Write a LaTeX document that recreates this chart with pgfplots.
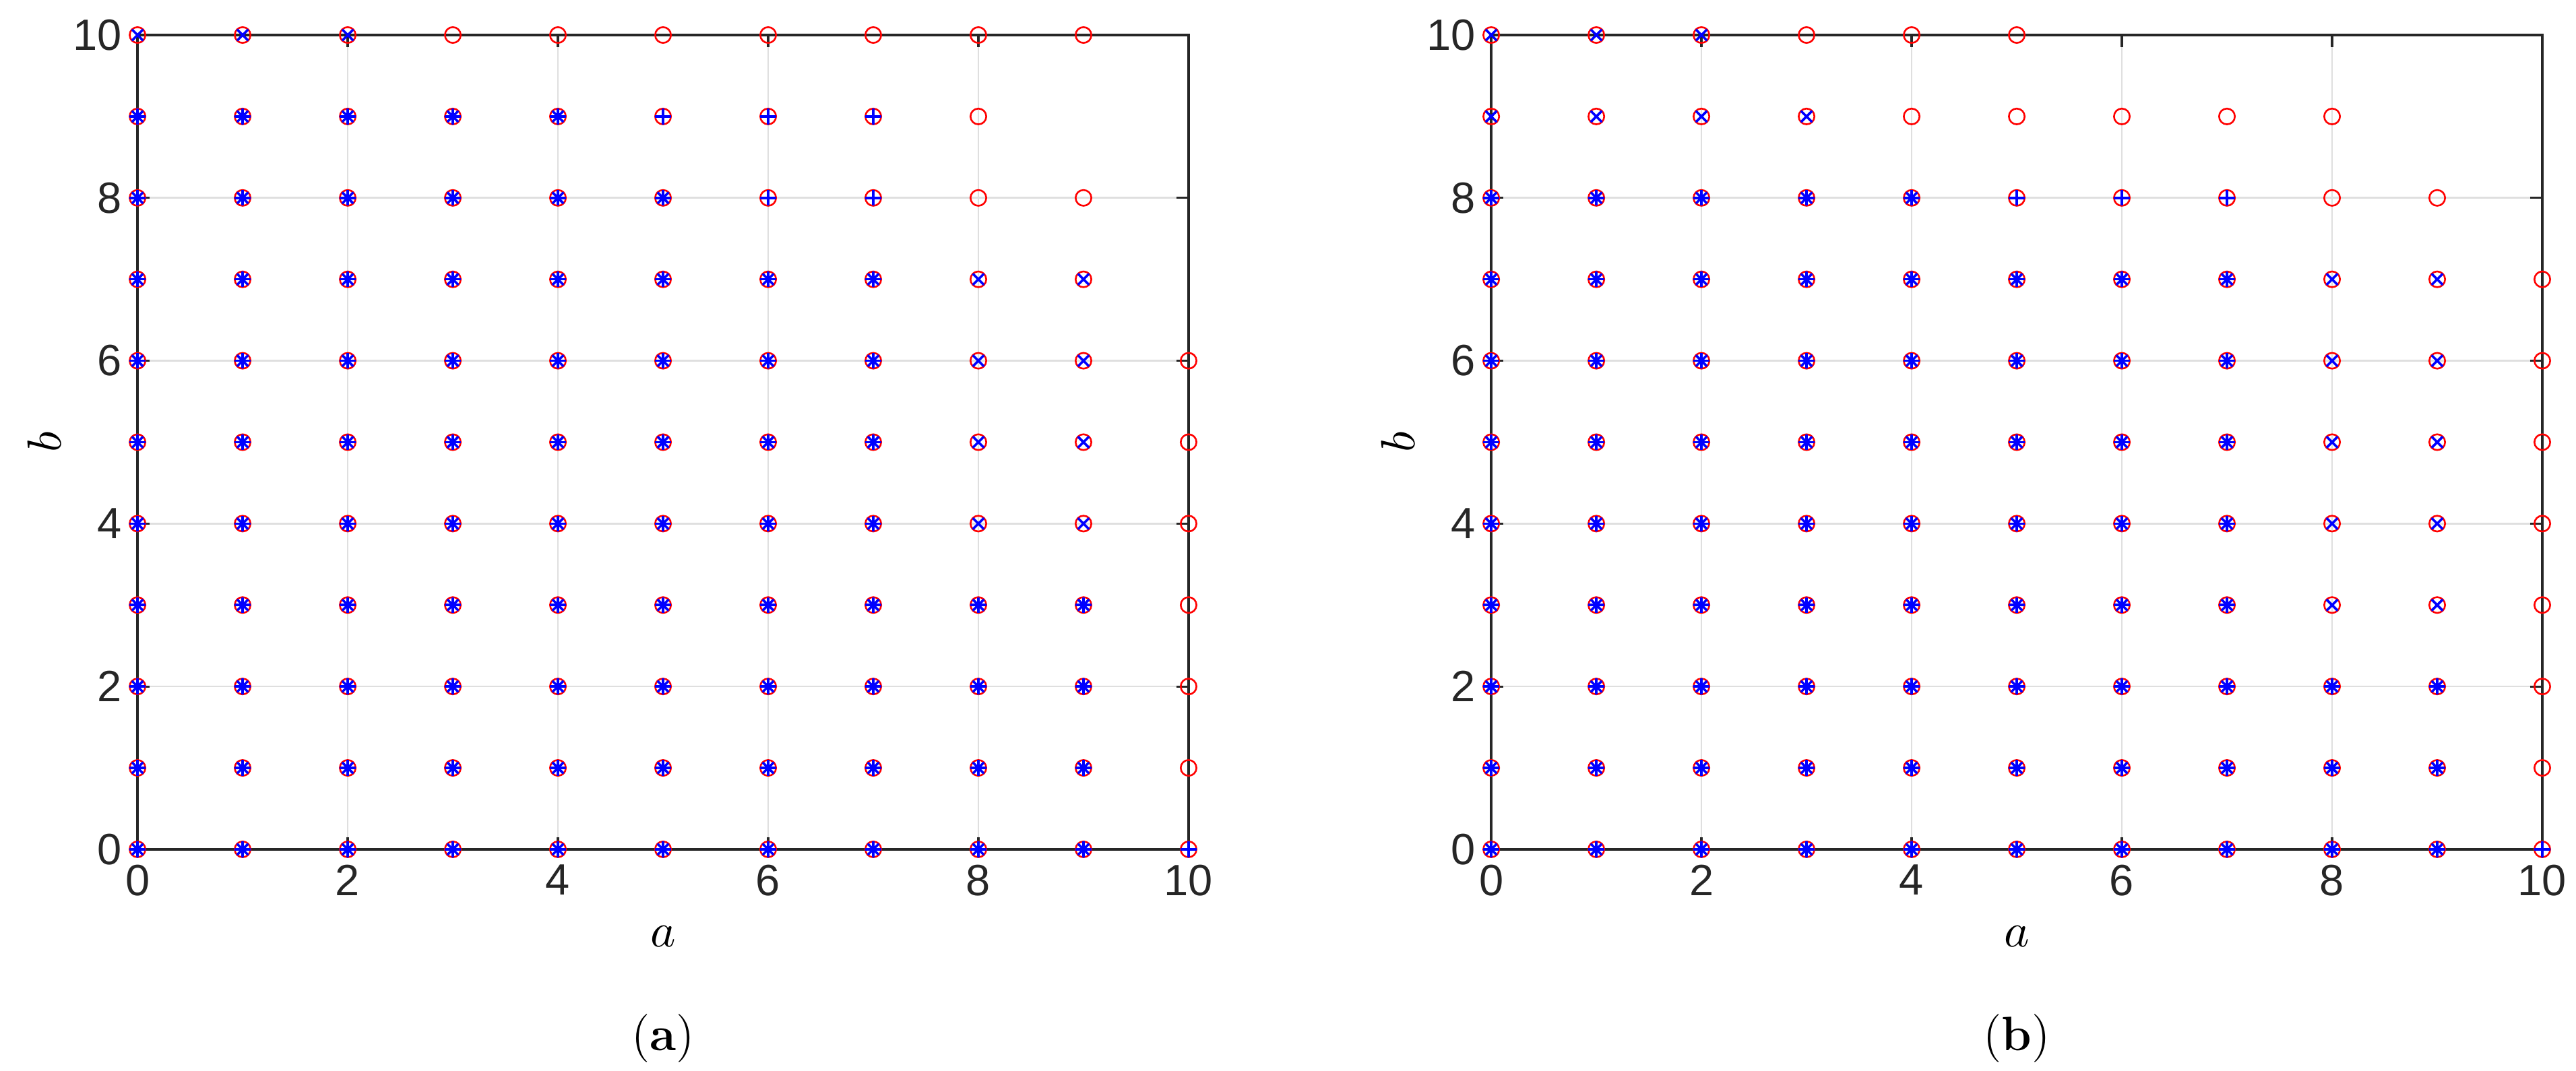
\documentclass[border=0pt]{standalone}
\usepackage{fontspec}
\usepackage{pgfplots}
\pgfplotsset{compat=1.18}
\setsansfont{Liberation Sans}

\definecolor{axgray}{RGB}{38,38,38}
\definecolor{gridgray}{RGB}{223,223,223}
\definecolor{mred}{RGB}{255,0,0}
\definecolor{mblue}{RGB}{0,0,255}

\pgfplotsset{
  panel/.style={
    scale only axis,
    width=240pt, height=186pt,
    xmin=0, xmax=10, ymin=0, ymax=10,
    xtick={0,2,...,10}, ytick={0,2,...,10},
    tick align=inside,
    major tick length=2.7pt,
    grid=major,
    grid style={line width=0.4pt, gridgray},
    axis line style={line width=0.5pt, axgray},
    tick style={line width=0.5pt, axgray},
    tick label style={font=\sffamily\fontsize{10}{12}\selectfont, axgray},
    /pgf/number format/assume math mode=true,
    label style={font=\fontsize{11}{13}\selectfont},
    xlabel={$a$}, ylabel={$b$},
    ylabel style={yshift=-4pt},
    clip=false,
  },
  circ/.style={only marks, mark=o, mark size=1.8pt, mred, line width=0.4pt},
  pls/.style={only marks, mark=+, mark size=1.8pt, mblue, line width=0.55pt},
  crs/.style={only marks, mark=x, mark size=1.8pt, mblue, line width=0.55pt},
}

\begin{document}
\begin{tikzpicture}
\useasboundingbox (-31.4pt,-50.5pt) rectangle (556.8pt,194pt);

% ---- panel (a)
\begin{axis}[panel, at={(0,0)}, anchor=south west]
\addplot[circ] coordinates {
 (0,10) (1,10) (2,10) (3,10) (4,10) (5,10) (6,10) (7,10) (8,10) (9,10)
 (0,9) (1,9) (2,9) (3,9) (4,9) (5,9) (6,9) (7,9) (8,9)
 (0,8) (1,8) (2,8) (3,8) (4,8) (5,8) (6,8) (7,8) (8,8) (9,8)
 (0,7) (1,7) (2,7) (3,7) (4,7) (5,7) (6,7) (7,7) (8,7) (9,7)
 (0,6) (1,6) (2,6) (3,6) (4,6) (5,6) (6,6) (7,6) (8,6) (9,6) (10,6)
 (0,5) (1,5) (2,5) (3,5) (4,5) (5,5) (6,5) (7,5) (8,5) (9,5) (10,5)
 (0,4) (1,4) (2,4) (3,4) (4,4) (5,4) (6,4) (7,4) (8,4) (9,4) (10,4)
 (0,3) (1,3) (2,3) (3,3) (4,3) (5,3) (6,3) (7,3) (8,3) (9,3) (10,3)
 (0,2) (1,2) (2,2) (3,2) (4,2) (5,2) (6,2) (7,2) (8,2) (9,2) (10,2)
 (0,1) (1,1) (2,1) (3,1) (4,1) (5,1) (6,1) (7,1) (8,1) (9,1) (10,1)
 (0,0) (1,0) (2,0) (3,0) (4,0) (5,0) (6,0) (7,0) (8,0) (9,0) (10,0)
};
\addplot[pls] coordinates {
 (0,9) (1,9) (2,9) (3,9) (4,9) (5,9) (6,9) (7,9)
 (0,8) (1,8) (2,8) (3,8) (4,8) (5,8) (6,8) (7,8)
 (0,7) (1,7) (2,7) (3,7) (4,7) (5,7) (6,7) (7,7)
 (0,6) (1,6) (2,6) (3,6) (4,6) (5,6) (6,6) (7,6)
 (0,5) (1,5) (2,5) (3,5) (4,5) (5,5) (6,5) (7,5)
 (0,4) (1,4) (2,4) (3,4) (4,4) (5,4) (6,4) (7,4)
 (0,3) (1,3) (2,3) (3,3) (4,3) (5,3) (6,3) (7,3) (8,3) (9,3)
 (0,2) (1,2) (2,2) (3,2) (4,2) (5,2) (6,2) (7,2) (8,2) (9,2)
 (0,1) (1,1) (2,1) (3,1) (4,1) (5,1) (6,1) (7,1) (8,1) (9,1)
 (0,0) (1,0) (2,0) (3,0) (4,0) (5,0) (6,0) (7,0) (8,0) (9,0) (10,0)
};
\addplot[crs] coordinates {
 (0,10) (1,10) (2,10)
 (0,9) (1,9) (2,9) (3,9) (4,9)
 (0,8) (1,8) (2,8) (3,8) (4,8) (5,8)
 (0,7) (1,7) (2,7) (3,7) (4,7) (5,7) (6,7) (7,7) (8,7) (9,7)
 (0,6) (1,6) (2,6) (3,6) (4,6) (5,6) (6,6) (7,6) (8,6) (9,6)
 (0,5) (1,5) (2,5) (3,5) (4,5) (5,5) (6,5) (7,5) (8,5) (9,5)
 (0,4) (1,4) (2,4) (3,4) (4,4) (5,4) (6,4) (7,4) (8,4) (9,4)
 (0,3) (1,3) (2,3) (3,3) (4,3) (5,3) (6,3) (7,3) (8,3) (9,3)
 (0,2) (1,2) (2,2) (3,2) (4,2) (5,2) (6,2) (7,2) (8,2) (9,2)
 (0,1) (1,1) (2,1) (3,1) (4,1) (5,1) (6,1) (7,1) (8,1) (9,1)
 (0,0) (1,0) (2,0) (3,0) (4,0) (5,0) (6,0) (7,0) (8,0) (9,0)
};
\node[font=\fontsize{11}{13}\selectfont] at (axis description cs:0.5,-0.232) {(\textbf{a})};
\end{axis}

% ---- panel (b)
\begin{axis}[panel, at={(309.1pt,0)}, anchor=south west]
\addplot[circ] coordinates {
 (0,10) (1,10) (2,10) (3,10) (4,10) (5,10)
 (0,9) (1,9) (2,9) (3,9) (4,9) (5,9) (6,9) (7,9) (8,9)
 (0,8) (1,8) (2,8) (3,8) (4,8) (5,8) (6,8) (7,8) (8,8) (9,8)
 (0,7) (1,7) (2,7) (3,7) (4,7) (5,7) (6,7) (7,7) (8,7) (9,7) (10,7)
 (0,6) (1,6) (2,6) (3,6) (4,6) (5,6) (6,6) (7,6) (8,6) (9,6) (10,6)
 (0,5) (1,5) (2,5) (3,5) (4,5) (5,5) (6,5) (7,5) (8,5) (9,5) (10,5)
 (0,4) (1,4) (2,4) (3,4) (4,4) (5,4) (6,4) (7,4) (8,4) (9,4) (10,4)
 (0,3) (1,3) (2,3) (3,3) (4,3) (5,3) (6,3) (7,3) (8,3) (9,3) (10,3)
 (0,2) (1,2) (2,2) (3,2) (4,2) (5,2) (6,2) (7,2) (8,2) (9,2) (10,2)
 (0,1) (1,1) (2,1) (3,1) (4,1) (5,1) (6,1) (7,1) (8,1) (9,1) (10,1)
 (0,0) (1,0) (2,0) (3,0) (4,0) (5,0) (6,0) (7,0) (8,0) (9,0) (10,0)
};
\addplot[pls] coordinates {
 (0,8) (1,8) (2,8) (3,8) (4,8) (5,8) (6,8) (7,8)
 (0,7) (1,7) (2,7) (3,7) (4,7) (5,7) (6,7) (7,7)
 (0,6) (1,6) (2,6) (3,6) (4,6) (5,6) (6,6) (7,6)
 (0,5) (1,5) (2,5) (3,5) (4,5) (5,5) (6,5) (7,5)
 (0,4) (1,4) (2,4) (3,4) (4,4) (5,4) (6,4) (7,4)
 (0,3) (1,3) (2,3) (3,3) (4,3) (5,3) (6,3) (7,3)
 (0,2) (1,2) (2,2) (3,2) (4,2) (5,2) (6,2) (7,2) (8,2) (9,2)
 (0,1) (1,1) (2,1) (3,1) (4,1) (5,1) (6,1) (7,1) (8,1) (9,1)
 (0,0) (1,0) (2,0) (3,0) (4,0) (5,0) (6,0) (7,0) (8,0) (9,0) (10,0)
};
\addplot[crs] coordinates {
 (0,10) (1,10) (2,10)
 (0,9) (1,9) (2,9) (3,9)
 (0,8) (1,8) (2,8) (3,8) (4,8)
 (0,7) (1,7) (2,7) (3,7) (4,7) (5,7) (6,7) (7,7) (8,7) (9,7)
 (0,6) (1,6) (2,6) (3,6) (4,6) (5,6) (6,6) (7,6) (8,6) (9,6)
 (0,5) (1,5) (2,5) (3,5) (4,5) (5,5) (6,5) (7,5) (8,5) (9,5)
 (0,4) (1,4) (2,4) (3,4) (4,4) (5,4) (6,4) (7,4) (8,4) (9,4)
 (0,3) (1,3) (2,3) (3,3) (4,3) (5,3) (6,3) (7,3) (8,3) (9,3)
 (0,2) (1,2) (2,2) (3,2) (4,2) (5,2) (6,2) (7,2) (8,2) (9,2)
 (0,1) (1,1) (2,1) (3,1) (4,1) (5,1) (6,1) (7,1) (8,1) (9,1)
 (0,0) (1,0) (2,0) (3,0) (4,0) (5,0) (6,0) (7,0) (8,0) (9,0)
};
\node[font=\fontsize{11}{13}\selectfont] at (axis description cs:0.5,-0.232) {(\textbf{b})};
\end{axis}
\end{tikzpicture}
\end{document}
